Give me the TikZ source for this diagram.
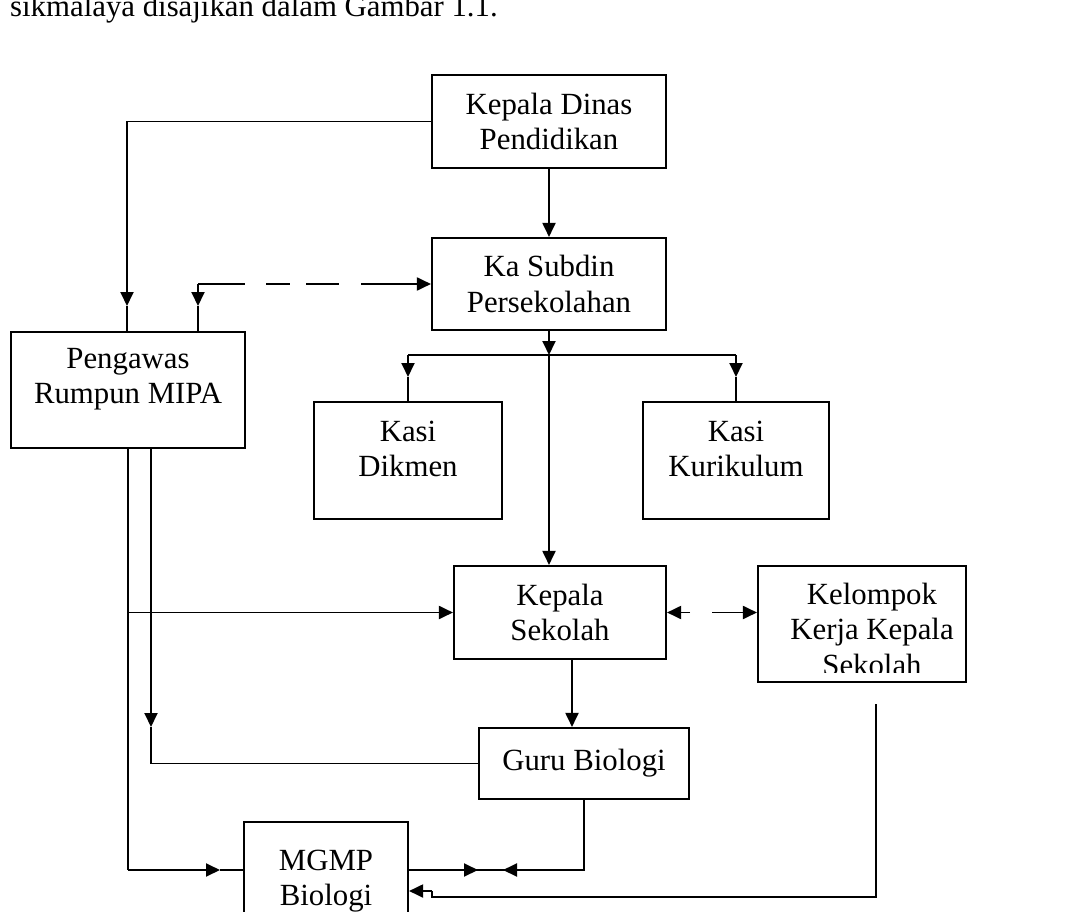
\documentclass[tikz,border=0pt]{standalone}
\usepackage{fontspec}
\setmainfont{Liberation Serif}
\usetikzlibrary{arrows.meta}
\newcommand{\diagfont}{\fontsize{30.8pt}{35.5pt}\selectfont}
\tikzset{
  box/.style={draw, line width=2.1pt, rectangle, inner sep=0pt},
  txt/.style={align=center, font=\diagfont, inner sep=0pt},
  con/.style={line width=1.9pt},
  arr/.style={-{Triangle[length=14pt,width=13pt]}},
}
\begin{document}
\begin{tikzpicture}[x=1pt,y=-1pt]
\useasboundingbox (0,0) rectangle (1084,912);
\clip (0,0) rectangle (1084,912);
\fill[white] (0,0) rectangle (1084,912);

% intro text (cut at top)
\node[anchor=base west, font=\diagfont, inner sep=0pt] (intro) at (10,17) {sikmalaya disajikan dalam Gambar 1.1.};

% boxes
\node[box, txt, minimum width=234pt, minimum height=93pt] (dinas) at (549,121.5) {Kepala Dinas\\Pendidikan};
\node[box, txt, minimum width=234pt, minimum height=92pt] (subdin) at (549,284) {Ka Subdin\\Persekolahan};
\node[box, minimum width=234pt, minimum height=116pt] (pengawas) at (128,390) {};
\node[txt] (pengawast) at (128,379) {Pengawas\\Rumpun MIPA};
\node[box, minimum width=188pt, minimum height=117pt] (dikmen) at (408,460.5) {};
\node[txt] (dikment) at (408,449) {Kasi\\Dikmen};
\node[box, minimum width=186pt, minimum height=117pt] (kurikulum) at (736,460.5) {};
\node[txt] (kurikulumt) at (736,449) {Kasi\\Kurikulum};
\node[box, txt, minimum width=212pt, minimum height=93pt] (kepsek) at (560,612.5) {Kepala\\Sekolah};
\node[box, minimum width=208pt, minimum height=116pt] (kelompok) at (862,624) {};
\coordinate (kclip) at (966,672);
\begin{scope}
  \clip (kelompok.north west) rectangle (kclip);
  \node[txt] (kelompokt) at (872,629) {Kelompok\\Kerja Kepala\\Sekolah};
\end{scope}
\node[box, txt, minimum width=210pt, minimum height=71pt] (guru) at (584,763.5) {Guru Biologi};
\node[box, txt, minimum width=164pt, minimum height=118pt] (mgmp) at (326,881) {MGMP\\Biologi};

% Kepala Dinas -> Ka Subdin
\draw[con, arr] (dinas.south) -- (subdin.north);

% Kepala Dinas -> Pengawas
\coordinate (c1) at (127,121.5);
\coordinate (a1) at (127,306);
\draw[con, arr] (dinas.west) -- (c1) -- (a1);
\draw[con] (a1) -- (pengawas.north -| a1);

% dashed Ka Subdin <-> Pengawas
\coordinate (d1) at (198,284);
\coordinate (a2) at (198,306);
\draw[con, arr, dash pattern=on 47pt off 21pt on 24pt off 16pt on 33pt off 22pt on 120pt] (d1) -- (subdin.west);
\draw[con, arr] (d1) -- (a2);
\draw[con] (a2) -- (pengawas.north -| a2);

% Ka Subdin -> branches and Kepala Sekolah
\coordinate (b0) at (549,355);
\coordinate (b1) at (408,355);
\coordinate (b2) at (736,355);
\coordinate (b1a) at (408,377);
\coordinate (b2a) at (736,377);
\draw[con, arr] (subdin.south) -- (b0);
\draw[con, arr] (b0) -- (kepsek.north -| b0);
\draw[con] (b1) -- (b2);
\draw[con, arr] (b1) -- (b1a);
\draw[con] (b1a) -- (dikmen.north);
\draw[con, arr] (b2) -- (b2a);
\draw[con] (b2a) -- (kurikulum.north);

% Kepala Sekolah <-> Kelompok (dashed)
\coordinate (k1) at (690,612.5);
\coordinate (k2) at (712,612.5);
\draw[con, arr] (k1) -- (kepsek.east);
\draw[con, arr] (k2) -- (kelompok.west |- k2);

% Pengawas outer line
\coordinate (q1) at (128,870);
\coordinate (q2) at (220,870);
\coordinate (q3) at (128,612.5);
\draw[con] (pengawas.south) -- (q1);
\draw[con, arr] (q1) -- (q2);
\draw[con] (q2) -- (mgmp.west |- q2);
\draw[con, arr] (q3) -- (kepsek.west);

% Pengawas inner line -> Guru Biologi
\coordinate (r0) at (151,448);
\coordinate (r1) at (151,727);
\coordinate (r2) at (151,763.5);
\draw[con, arr] (r0) -- (r1);
\draw[con] (r1) -- (r2) -- (guru.west);

% Kepala Sekolah -> Guru Biologi
\coordinate (g0) at (572,700);
\draw[con, arr] (kepsek.south -| g0) -- (guru.north -| g0);

% Guru Biologi <-> MGMP
\coordinate (h1) at (584,870);
\coordinate (h2) at (503,870);
\coordinate (h3) at (478,870);
\draw[con] (guru.south) -- (h1) -- (mgmp.east |- h1);
\draw[con, arr] (h1) -- (h2);
\draw[con, arr] (mgmp.east |- h1) -- (h3);

% Kelompok -> MGMP return
\coordinate (s0) at (876,704);
\coordinate (s1) at (876,897);
\coordinate (s2) at (432,897);
\coordinate (s3) at (432,891);
\draw[con] (s0) -- (s1) -- (s2) -- (s3);
\draw[con, arr] (s3) -- (mgmp.east |- s3);
\end{tikzpicture}
\end{document}
